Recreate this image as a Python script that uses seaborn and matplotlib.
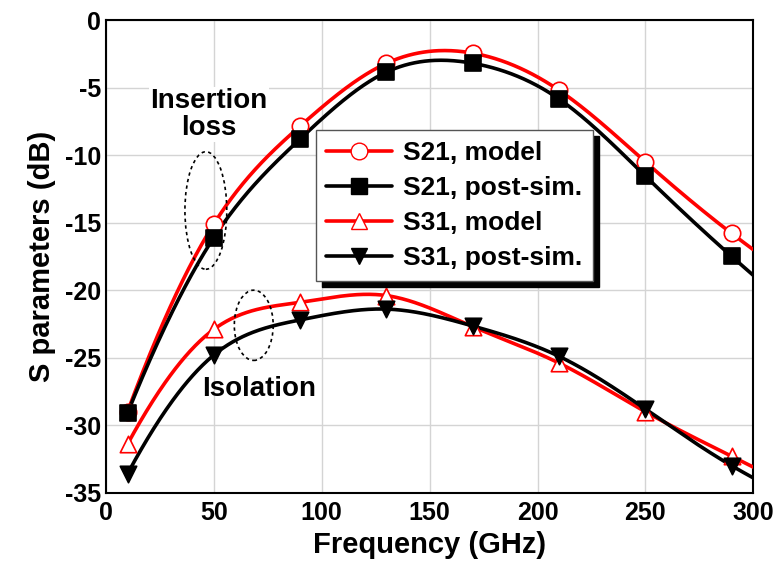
import numpy as np
import pandas as pd
import seaborn as sns
import matplotlib.pyplot as plt
from matplotlib.lines import Line2D
from matplotlib.patches import Ellipse
from matplotlib.ticker import MultipleLocator

# values; markers every 40 GHz from 10 to 290,
# the last point (300 GHz) is where the curves leave the plot
freq = [10, 50, 90, 130, 170, 210, 250, 290, 300]
marker_freq = [10, 50, 90, 130, 170, 210, 250, 290]
s21_model = [-29.0, -15.1, -7.85, -3.2, -2.45, -5.2, -10.5, -15.8, -17.0]
s21_post = [-29.1, -16.1, -8.8, -3.85, -3.2, -5.85, -11.55, -17.5, -18.9]
s31_model = [-31.4, -22.9, -20.9, -20.4, -22.7, -25.4, -29.0, -32.3, -33.1]
s31_post = [-33.6, -24.8, -22.2, -21.4, -22.65, -24.9, -28.8, -33.0, -33.9]


def smooth(x, y, n=500):
    # clamped cubic spline (end slope from a quadratic through the first
    # three points), only used to draw the smoothed line
    x = np.asarray(x, float); y = np.asarray(y, float)
    k = len(x); h = np.diff(x); d = np.diff(y) / h
    s0 = d[0] + (d[0] - d[1]) * h[0] / (h[0] + h[1])
    A = np.zeros((k, k)); b = np.zeros(k)
    A[0, 0], A[0, 1] = 2 * h[0], h[0]
    b[0] = 6 * (d[0] - s0)
    A[-1, -1] = 1  # natural at the clipped right edge
    for i in range(1, k - 1):
        A[i, i - 1] = h[i - 1]; A[i, i] = 2 * (h[i - 1] + h[i]); A[i, i + 1] = h[i]
        b[i] = 6 * (d[i] - d[i - 1])
    M = np.linalg.solve(A, b)
    xs = np.linspace(x[0], x[-1], n)
    j = np.clip(np.searchsorted(x, xs) - 1, 0, k - 2)
    t0 = x[j + 1] - xs; t1 = xs - x[j]
    ys = (M[j] * t0**3 + M[j + 1] * t1**3) / (6 * h[j]) \
        + (y[j] / h[j] - M[j] * h[j] / 6) * t0 + (y[j + 1] / h[j] - M[j + 1] * h[j] / 6) * t1
    return xs, ys


plt.figure(figsize=(7.79, 5.73), dpi=100)
sns.set_style('white')
plt.rcParams['font.family'] = ['Liberation Sans', 'DejaVu Sans']
plt.rcParams['font.weight'] = 'bold'
plt.rcParams['axes.unicode_minus'] = False
plt.rcParams['text.color'] = 'black'
plt.rcParams['xtick.color'] = 'black'
plt.rcParams['ytick.color'] = 'black'
plt.rcParams['axes.labelcolor'] = 'black'
ax = plt.gca()
plt.subplots_adjust(left=0.136, right=0.967, bottom=0.14, top=0.965)

series = [
    ('S21, model', s21_model, 'red', 'o', 'white', 'red'),
    ('S21, post-sim.', s21_post, 'black', 's', 'black', 'black'),
    ('S31, model', s31_model, 'red', '^', 'white', 'red'),
    ('S31, post-sim.', s31_post, 'black', 'v', 'black', 'black'),
]
handles = []
for name, vals, col, mk, fc, ec in series:
    xs, ys = smooth(freq, vals)
    sns.lineplot(x=xs, y=ys, color=col, linewidth=2.6, ax=ax, zorder=3)
    pts = pd.DataFrame({'f': freq, 'v': vals})
    pts = pts[pts['f'].isin(marker_freq)]
    sns.scatterplot(data=pts, x='f', y='v', marker=mk, s=140, color=fc,
                    edgecolor=ec, linewidth=1.2, ax=ax, zorder=4)
    handles.append(Line2D([], [], color=col, lw=2.6, marker=mk, markersize=12,
                          markerfacecolor=fc, markeredgecolor=ec, label=name))

ax.set_xlim(0, 300)
ax.set_ylim(-35, 0)
ax.xaxis.set_major_locator(MultipleLocator(50))
ax.xaxis.set_minor_locator(MultipleLocator(25))
ax.yaxis.set_major_locator(MultipleLocator(5))
ax.yaxis.set_minor_locator(MultipleLocator(2.5))
ax.grid(True, which='major', color='#d4d4d4', linewidth=1.0)
ax.tick_params(which='both', direction='in', labelsize=18, length=4, width=1.2)
ax.tick_params(which='minor', length=2.5)
ax.tick_params(axis='x', pad=6)
for s in ax.spines.values():
    s.set_color('black'); s.set_linewidth(1.5)

ax.set_xlabel('Frequency (GHz)', fontsize=21, fontweight='bold', labelpad=4)
ax.set_ylabel('S parameters (dB)', fontsize=21, fontweight='bold', labelpad=6)

ax.text(47.7, -7.0, 'Insertion\nloss', ha='center', va='center', fontsize=20,
        fontweight='bold', linespacing=1.05, zorder=5,
        bbox=dict(facecolor='white', edgecolor='none', pad=1))
ax.text(70.8, -27.3, 'Isolation', ha='center', va='center', fontsize=20,
        fontweight='bold', zorder=5)
ax.add_patch(Ellipse((46.3, -14.1), 19.4, 8.7, fill=False, ls=(0, (2, 2)),
                     lw=1.2, color='black', zorder=5))
ax.add_patch(Ellipse((68.5, -22.6), 18.0, 5.2, fill=False, ls=(0, (2, 2)),
                     lw=1.2, color='black', zorder=5))

leg = ax.legend(handles=handles, loc='upper left', bbox_to_anchor=(0.324, 0.767),
                fontsize=19, frameon=True, fancybox=False, framealpha=1,
                edgecolor='#555555', borderpad=0.4, labelspacing=0.42,
                handlelength=2.5, handletextpad=0.4, borderaxespad=0,
                shadow={'ox': 4.5, 'oy': -4.5, 'color': 'black', 'alpha': 1})
leg.get_frame().set_linewidth(1.0)
leg.set_zorder(10)

plt.savefig('out.png', dpi=100)
